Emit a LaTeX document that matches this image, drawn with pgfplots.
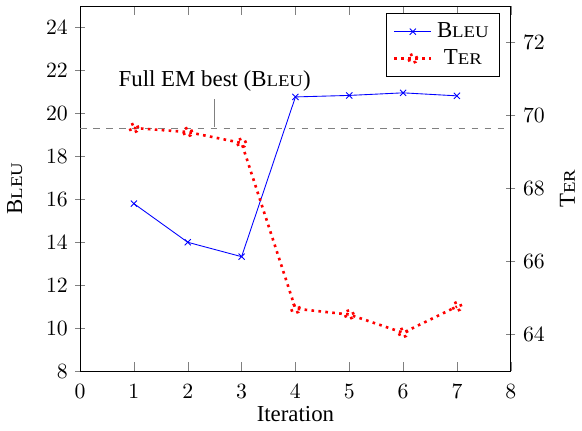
\documentclass[border=0pt]{standalone}
\usepackage{graphicx}
\usepackage{pgfplots}
\pgfplotsset{compat=1.18}
\usepackage{fontspec}
\setmainfont{Liberation Serif}
\newcommand{\fsc}[1]{{\fontsize{7.5}{9}\selectfont\scalebox{1.15}[1]{#1}}}
\newcommand{\lbl}{\fontsize{10.5}{12.6}\selectfont}
\begin{document}
\begin{tikzpicture}
\begin{axis}[
  scale only axis, width=198pt, height=167.8pt,
  xmin=0, xmax=8, ymin=8, ymax=25,
  axis y line*=left,
  ytick align=center, xtick align=inside,
  xtick={0,...,8}, ytick={8,10,...,24},
  xticklabel style={yshift=-2.4pt},
  xlabel={Iteration}, ylabel={B\fsc{LEU}},
  label style={font=\lbl},
  xlabel style={yshift=3pt, text depth=1pt},
  ylabel style={yshift=4pt},
  after end axis/.code={\path (rel axis cs:0,1) ++(0pt,2.8pt);},
]
\addplot[gray, dashed, thick, forget plot] coordinates {(0,19.3) (8,19.3)};
\addplot[blue, mark=x] coordinates {(1,15.8) (2,14.0) (3,13.33) (4,20.77) (5,20.84) (6,20.96) (7,20.82)};
\node[inner sep=0pt, pin={[pin edge={gray}, pin distance=13pt, font=\lbl]90:{Full EM best (B\fsc{LEU})}}] at (axis cs:2.5,19.3) {};
\end{axis}
\begin{axis}[
  scale only axis, width=198pt, height=167.8pt,
  xmin=0, xmax=8, ymin=63, ymax=73,
  axis y line*=right, axis x line=none,
  ytick align=center,
  ytick={64,66,...,72},
  ylabel={T\fsc{ER}},
  label style={font=\lbl},
  legend pos=north east,
  legend style={at={(0.975,0.98)}, font=\lbl},
]
\addlegendimage{blue, mark=x}
\addplot[red, dotted, very thick, mark=o] coordinates {(1,69.66) (2,69.55) (3,69.25) (4,64.71) (5,64.55) (6,64.05) (7,64.77)};
\legend{B\fsc{LEU}, T\fsc{ER}}
\end{axis}
\end{tikzpicture}
\end{document}
